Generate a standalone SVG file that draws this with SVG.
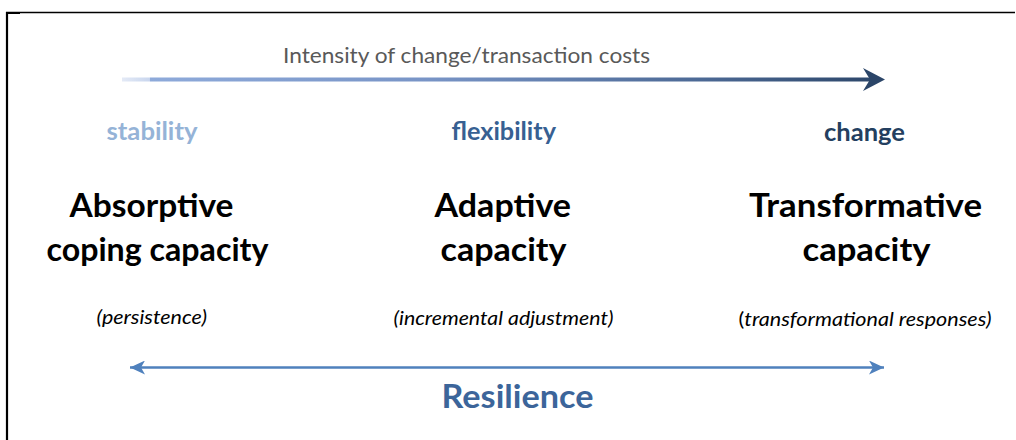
<svg xmlns="http://www.w3.org/2000/svg" width="1016" height="440" viewBox="0 0 1016 440">
<style>
text{font-family:Lato,"Open Sans","Liberation Sans",sans-serif;}
.sub{font-size:24px;font-weight:bold;}
.title{font-size:32px;font-weight:bold;fill:#000;}
.res{font-size:32px;font-weight:bold;fill:#3c659a;}
.note{font-size:19px;font-style:italic;fill:#000;}
.axis{font-size:21.6px;fill:#595959;}
</style>
<defs>
<linearGradient id="grad" gradientUnits="userSpaceOnUse" x1="122" y1="0" x2="885" y2="0">
<stop offset="0" stop-color="#e4eaf6"/>
<stop offset="0.036" stop-color="#c9d6ee"/>
<stop offset="0.037" stop-color="#8eaada"/>
<stop offset="0.4" stop-color="#7894c6"/>
<stop offset="0.75" stop-color="#4d6a96"/>
<stop offset="1" stop-color="#2b4568"/>
</linearGradient>
<marker id="head" viewBox="0 0 16 14" refX="15" refY="7" markerWidth="16" markerHeight="14" markerUnits="userSpaceOnUse" orient="auto-start-reverse">
<path d="M15,7 L0,0 L4,7 L0,14 Z" fill="#4f81bd"/>
</marker>
</defs>
<g id="frame">
<path d="M6,12.5 H1015" stroke="#000" stroke-width="1.4" fill="none"/>
<path d="M7,12 V440" stroke="#000" stroke-width="2.2" fill="none"/>
<rect x="6" y="12" width="14" height="2" fill="#000"/>
</g>
<g id="connectors">
<g id="intensity-arrow">
<rect x="122" y="77.5" width="748" height="4" fill="url(#grad)"/>
<path d="M885,79.5 L863,68 L870,79.5 L863,91 Z" fill="#2b4568"/>
</g>
<path id="resilience-arrow" d="M130,367.5 H884" stroke="#4f81bd" stroke-width="2.5" fill="none" marker-start="url(#head)" marker-end="url(#head)"/>
</g>
<g id="axis-label">
<text class="axis" x="283" y="63" textLength="367" lengthAdjust="spacingAndGlyphs">Intensity of change/transaction costs</text>
</g>
<g id="absorptive">
<text class="sub" x="106.5" y="140" fill="#95b3d7" textLength="91" lengthAdjust="spacingAndGlyphs">stability</text>
<text class="title" x="69.5" y="217" textLength="164" lengthAdjust="spacingAndGlyphs">Absorptive</text>
<text class="title" x="46.5" y="261" textLength="222" lengthAdjust="spacingAndGlyphs">coping capacity</text>
<text class="note" x="96.5" y="323.5" textLength="110.5" lengthAdjust="spacingAndGlyphs">(persistence)</text>
</g>
<g id="adaptive">
<text class="sub" x="451.5" y="140" fill="#376092" textLength="104.5" lengthAdjust="spacingAndGlyphs">flexibility</text>
<text class="title" x="434.5" y="217" textLength="136.5" lengthAdjust="spacingAndGlyphs">Adaptive</text>
<text class="title" x="440.5" y="261" textLength="126" lengthAdjust="spacingAndGlyphs">capacity</text>
<text class="note" x="393.5" y="325" textLength="220" lengthAdjust="spacingAndGlyphs">(incremental adjustment)</text>
</g>
<g id="transformative">
<text class="sub" x="824" y="141" fill="#243f60" textLength="81" lengthAdjust="spacingAndGlyphs">change</text>
<text class="title" x="749" y="217" textLength="233" lengthAdjust="spacingAndGlyphs">Transformative</text>
<text class="title" x="802.5" y="261" textLength="128" lengthAdjust="spacingAndGlyphs">capacity</text>
<text class="note" x="738.5" y="326" textLength="253" lengthAdjust="spacingAndGlyphs"><tspan font-style="normal">(</tspan>transformational responses)</text>
</g>
<g id="resilience">
<text class="res" x="441.5" y="408" textLength="152" lengthAdjust="spacingAndGlyphs">Resilience</text>
</g>
</svg>
